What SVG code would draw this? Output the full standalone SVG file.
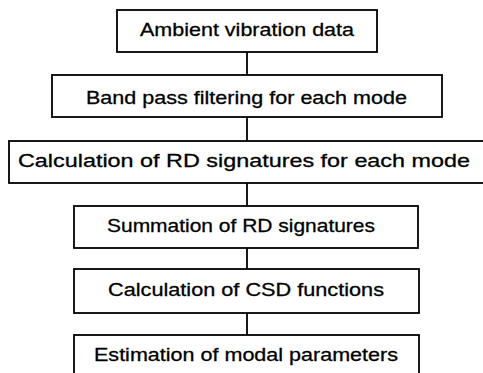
<svg xmlns="http://www.w3.org/2000/svg" width="483" height="373" viewBox="0 0 483 373">
<style>
.box{fill:#fff;stroke:#000;stroke-width:1.8}
.lbl{font-family:"Liberation Sans",Arial,sans-serif;font-size:19px;fill:#000;stroke:#000;stroke-width:0.3;text-anchor:middle}
.con{stroke:#000;stroke-width:1.8;fill:none}
</style>
<rect width="483" height="373" fill="#fff"/>
<g id="connectors">
<line class="con" x1="247" y1="52" x2="247" y2="75"/>
<line class="con" x1="247" y1="117" x2="247" y2="141"/>
<line class="con" x1="247" y1="183" x2="247" y2="206"/>
<line class="con" x1="247" y1="248" x2="247" y2="269"/>
<line class="con" x1="247" y1="313" x2="247" y2="335"/>
</g>
<g id="n1"><rect class="box" x="117" y="10" width="260" height="42"/><text class="lbl" x="247" y="35.5" textLength="214" lengthAdjust="spacingAndGlyphs">Ambient vibration data</text></g>
<g id="n2"><rect class="box" x="52" y="75" width="390" height="42"/><text class="lbl" x="246.5" y="103.5" textLength="321" lengthAdjust="spacingAndGlyphs">Band pass filtering for each mode</text></g>
<g id="n3"><rect class="box" x="9" y="141" width="480" height="42"/><text class="lbl" x="244" y="167" textLength="452" lengthAdjust="spacingAndGlyphs">Calculation of RD signatures for each mode</text></g>
<g id="n4"><rect class="box" x="74" y="206" width="344" height="42"/><text class="lbl" x="241" y="231.5" textLength="268" lengthAdjust="spacingAndGlyphs">Summation of RD signatures</text></g>
<g id="n5"><rect class="box" x="74" y="269" width="345" height="44"/><text class="lbl" x="246" y="295.5" textLength="276" lengthAdjust="spacingAndGlyphs">Calculation of CSD functions</text></g>
<g id="n6"><rect class="box" x="74" y="335" width="345" height="50"/><text class="lbl" x="246" y="360.5" textLength="304" lengthAdjust="spacingAndGlyphs">Estimation of modal parameters</text></g>
</svg>
